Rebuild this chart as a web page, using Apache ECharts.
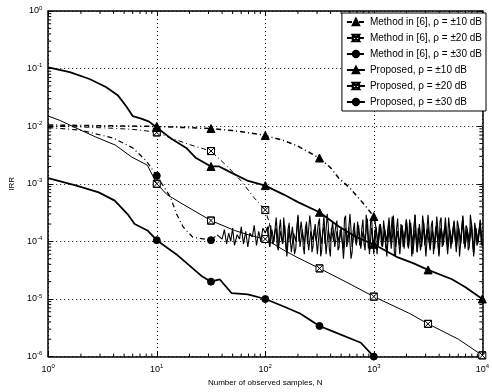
<!DOCTYPE html>
<html><head><meta charset="utf-8">
<script src="https://cdn.jsdelivr.net/npm/echarts@6/dist/echarts.min.js"></script>
<style>html,body{margin:0;padding:0;background:#fff}#c{width:492px;height:392px}</style>
</head><body><div id="c"></div><script>
// ---------------- data (N, IRR) ----------------
const names = ['Method in [6], \u03c1 = \u00b110 dB','Method in [6], \u03c1 = \u00b120 dB','Method in [6], \u03c1 = \u00b130 dB',
               'Proposed, \u03c1 = \u00b110 dB','Proposed, \u03c1 = \u00b120 dB','Proposed, \u03c1 = \u00b130 dB'];
const markN = [10, 31.6, 100, 316, 1000, 3162, 10000];

const m10Curve = [[1,0.0105],[2,0.0103],[5,0.0101],[10,0.0099],[20,0.0094],[31.6,0.0091],[50,0.0084],[70,0.0077],[100,0.0069],[150,0.0056],[200,0.0045],[316,0.0028],[400,0.0019],[474,0.00126],[600,0.00085],[716,0.00058],[850,0.0004],[1000,0.00027],[1030,0.00021]];
const m20Curve = [[1,0.0100],[2,0.0097],[4,0.0092],[6,0.0088],[8,0.0083],[10,0.0078],[13,0.0064],[20,0.0048],[31.6,0.0037],[46,0.0019],[60,0.00112],[79,0.00057],[100,0.00035],[110,0.0002]];
const m30Curve = [[1,0.0095],[2,0.0085],[4,0.0062],[6,0.0042],[8,0.0025],[10,0.00138],[13.4,0.00058],[15.2,0.0003],[17.5,0.000178],[21.5,0.000118],[31.6,0.000105],[36,0.00013]];
const p10Curve = [[1,0.105],[1.58,0.087],[2.4,0.066],[3.4,0.048],[4.4,0.034],[5.25,0.022],[6,0.015],[7.2,0.0135],[8.5,0.012],[10,0.0095],[13.4,0.0062],[18.7,0.0042],[23,0.0028],[31.6,0.002],[37.6,0.002],[49,0.00155],[69.6,0.00112],[100,0.00093],[148,0.00065],[200,0.00048],[316,0.00032],[480,0.00018],[700,0.000117],[1000,0.000089],[1620,0.000054],[2300,0.000042],[3162,0.000032],[5250,0.000022],[7000,0.000016],[10000,0.00001]];
const p20Curve = [[1,0.015],[1.28,0.0126],[2,0.0085],[2.74,0.0065],[4.15,0.0047],[5.9,0.0029],[8.2,0.0021],[10,0.001],[12.4,0.00065],[17.5,0.00044],[31.6,0.00023],[52,0.000155],[75,0.000125],[100,0.00011],[147,0.000071],[200,0.000052],[316,0.000034],[590,0.0000186],[1000,0.000011],[2140,0.0000056],[3162,0.0000037],[6030,0.000002],[10000,0.00000105]];
const p30Curve = [[1,0.00126],[1.82,0.00093],[2.92,0.00071],[4.1,0.00051],[5.4,0.000295],[6.25,0.0002],[8.2,0.000155],[10,0.000105],[15.1,0.00006],[26.3,0.0000245],[31.6,0.00002],[38,0.000022],[49,0.0000126],[69,0.000012],[100,0.00001],[148,0.0000074],[209,0.0000056],[316,0.0000034],[447,0.0000026],[760,0.00000174],[1000,0.000001]];

// noise floor samples
const noiseNA = [40,42,44,46,48,50,52,55,58,60,63,66,69,72,76,79,83,87,91,95,100,105,110,115,120,126,132,138,145,151,158,166,174,182,191,200,209,219,229,240,251,263,275,288,302,316,331,347,363,380,398,417,437,457,479,501,525,550,575,603,631,661,692,724,759,794,832,871,912,955,1000,1047,1096,1148,1202,1259,1318,1380,1445,1514,1585,1660,1738,1820,1905,1995,2089,2188,2291,2399,2512,2630,2754,2884,3020,3162,3311,3467,3631,3802,3981,4169,4365,4571,4786,5012,5248,5495,5754,6026,6310,6607,6918,7244,7586,7943,8318,8710,9120,9550,10000];
const noiseNB = [112,117,123,129,135,141,148,155,162,170,178,186,195,204,214,224,234,245,257,269,282,295,309,324,339,355,372,389,407,427,447,468,490,513,537,562,589,617,646,676,708,741,776,813,851,891,933,977,1023,1072,1122,1175,1230,1288,1349,1413,1479,1549,1622,1698,1778,1862,1950,2042,2138,2239,2344,2455,2570,2692,2818,2951,3090,3236,3388,3548,3715,3890,4074,4266,4467,4677,4898,5129,5370,5623,5888,6166,6457,6761,7079,7413,7762,8128,8511,8913,9333,9772];
const noiseNAhi = noiseNA.slice(21); // N = 105 .. 10000
const noiseNC = noiseNA.slice(71);   // N = 1047 .. 10000
const m30Noise = [1.1e-4,1.6e-4,0.9e-4,1.4e-4,1.0e-4,1.7e-4,0.85e-4,1.3e-4,1.1e-4,1.8e-4,
0.9e-4,1.5e-4,0.8e-4,1.4e-4,1.2e-4,1.9e-4,0.85e-4,1.5e-4,1.0e-4,1.7e-4,1.4e-4,
1.8e-4,0.8e-4,1.6e-4,1.0e-4,2.6e-4,0.75e-4,1.5e-4,0.95e-4,1.9e-4,0.55e-4,
1.7e-4,0.65e-4,1.4e-4,1.0e-4,2.9e-4,0.8e-4,1.6e-4,0.9e-4,1.8e-4,0.7e-4,
1.5e-4,1.05e-4,2.0e-4,0.6e-4,1.7e-4,0.9e-4,2.7e-4,0.6e-4,1.6e-4,1.0e-4,
2.2e-4,0.8e-4,1.5e-4,0.95e-4,1.8e-4,0.5e-4,1.7e-4,1.0e-4,3.0e-4,0.8e-4,
1.6e-4,0.9e-4,1.9e-4,0.75e-4,1.5e-4,1.05e-4,2.5e-4,0.6e-4,1.7e-4,0.85e-4,
1.8e-4,0.8e-4,2.0e-4,0.95e-4,1.6e-4,0.55e-4,1.7e-4,1.0e-4,2.8e-4,0.8e-4,
1.5e-4,0.9e-4,1.9e-4,0.75e-4,2.4e-4,1.0e-4,2.1e-4,0.6e-4,1.6e-4,0.85e-4,
2.0e-4,0.8e-4,1.7e-4,0.95e-4,2.9e-4,0.75e-4,1.6e-4,0.9e-4,1.9e-4,0.55e-4,
1.7e-4,1.0e-4,2.6e-4,0.8e-4,1.5e-4,0.9e-4,2.0e-4,0.65e-4,1.8e-4,1.0e-4,
2.7e-4,0.8e-4,1.6e-4,0.85e-4,1.9e-4,0.6e-4,1.7e-4,1.0e-4,2.4e-4,0.85e-4];
const m20Noise = [1.9e-4,0.9e-4,1.5e-4,0.8e-4,1.7e-4,1.1e-4,2.6e-4,0.75e-4,1.6e-4,0.95e-4,
1.8e-4,0.6e-4,1.5e-4,1.0e-4,2.2e-4,0.8e-4,1.7e-4,0.9e-4,2.8e-4,0.65e-4,
1.6e-4,1.0e-4,2.1e-4,0.55e-4,1.5e-4,0.9e-4,3.0e-4,0.75e-4,1.7e-4,1.0e-4,
1.9e-4,0.7e-4,1.6e-4,0.95e-4,2.5e-4,0.8e-4,1.8e-4,0.5e-4,1.5e-4,1.05e-4,
2.2e-4,0.85e-4,1.7e-4,0.9e-4,2.9e-4,0.75e-4,2.1e-4,1.0e-4,1.6e-4,0.6e-4,
1.8e-4,0.9e-4,2.3e-4,0.8e-4,1.6e-4,1.0e-4,2.7e-4,0.6e-4,1.7e-4,0.95e-4,
2.0e-4,0.8e-4,1.5e-4,0.9e-4,2.4e-4,0.55e-4,1.8e-4,1.0e-4,1.7e-4,0.7e-4,
2.8e-4,0.85e-4,1.6e-4,0.95e-4,1.9e-4,0.6e-4,1.8e-4,1.0e-4,2.2e-4,0.8e-4,
1.6e-4,0.9e-4,2.6e-4,0.75e-4,1.7e-4,1.05e-4,2.3e-4,0.55e-4,1.5e-4,0.9e-4,
1.9e-4,0.7e-4,2.9e-4,1.0e-4,2.1e-4,0.85e-4,1.6e-4,0.9e-4];
const m20NoiseHi = [1.5e-4,0.8e-4,2.0e-4,1.0e-4,1.7e-4,0.7e-4,2.4e-4,0.9e-4,1.6e-4,0.65e-4,
2.1e-4,0.95e-4,1.8e-4,0.75e-4,2.7e-4,1.0e-4,1.5e-4,0.6e-4,2.2e-4,0.85e-4,
1.9e-4,0.8e-4,1.6e-4,1.05e-4,2.5e-4,0.7e-4,1.8e-4,0.9e-4,2.0e-4,0.55e-4,
1.7e-4,1.0e-4,2.3e-4,0.8e-4,1.6e-4,0.75e-4,2.8e-4,0.95e-4,1.9e-4,0.65e-4,
2.1e-4,0.85e-4,1.5e-4,1.0e-4,2.4e-4,0.7e-4,1.8e-4,0.9e-4,2.6e-4,0.6e-4,
1.7e-4,1.05e-4,2.0e-4,0.8e-4,1.6e-4,0.7e-4,2.2e-4,0.95e-4,1.9e-4,0.55e-4,
2.5e-4,0.85e-4,1.7e-4,1.0e-4,2.1e-4,0.75e-4,1.6e-4,0.9e-4,2.9e-4,0.65e-4,
1.8e-4,1.0e-4,2.0e-4,0.8e-4,1.5e-4,0.7e-4,2.3e-4,0.95e-4,1.7e-4,0.6e-4,
2.6e-4,0.85e-4,1.9e-4,1.05e-4,1.6e-4,0.75e-4,2.2e-4,0.9e-4,1.8e-4,0.55e-4,
2.4e-4,1.0e-4,1.7e-4,0.8e-4,2.0e-4,0.7e-4,1.6e-4,0.95e-4,2.1e-4,0.85e-4];
const m10Noise = [1.7e-4,0.9e-4,2.0e-4,0.8e-4,1.6e-4,1.0e-4,2.6e-4,0.75e-4,1.8e-4,0.95e-4,
1.5e-4,0.6e-4,1.9e-4,1.0e-4,2.4e-4,0.8e-4,1.7e-4,0.9e-4,2.9e-4,0.65e-4,
1.6e-4,1.05e-4,2.1e-4,0.55e-4,1.8e-4,0.9e-4,1.5e-4,0.75e-4,2.7e-4,1.0e-4,
1.7e-4,0.85e-4,1.9e-4,0.6e-4,1.6e-4,1.0e-4,2.3e-4,0.8e-4,1.8e-4,0.9e-4,
2.8e-4,0.75e-4,1.6e-4,1.05e-4,2.1e-4,0.55e-4,1.7e-4,0.95e-4,1.9e-4,0.85e-4];

const xMinor = [], yMinor = [];
for (let e = 0; e < 4; e++) for (let k = 2; k <= 9; k++) xMinor.push(k * Math.pow(10, e));
for (let e = -6; e < 0; e++) for (let k = 2; k <= 9; k++) yMinor.push(k * Math.pow(10, e));

// ---------------- styling ----------------
const FONT = 'Liberation Sans, Arial, sans-serif';
const DASHDOT = [5, 3, 1, 3];
const boxSym = 'path://M0,0L10,0L10,10L0,10Z M0,0L10,10L0,10L10,0Z';

function withMarks(curve, sym) {
  return curve.map(p => ({ value: p, symbol: markN.indexOf(p[0]) >= 0 ? sym : 'none' }));
}
function zip(ns, vs) { return ns.map((n, i) => [n, vs[i]]); }

function mainSeries(name, curve, sym, size, lw, dash, fill) {
  return {
    name, type: 'line', data: withMarks(curve, sym), symbol: sym, symbolSize: size,
    showSymbol: true, showAllSymbol: true, z: 5,
    lineStyle: { color: '#000', width: lw, type: dash },
    itemStyle: { color: fill, borderColor: '#000', borderWidth: 1 },
    emphasis: { disabled: true }, animation: false
  };
}
function noiseSeries(startPt, pts) {
  return {
    type: 'line', data: [startPt].concat(pts.sort((a, b) => a[0] - b[0])), symbol: 'none', z: 4,
    lineStyle: { color: '#000', width: 1.1 }, emphasis: { disabled: true }, animation: false
  };
}

const supFmt = v => '{b|10}{s|' + Math.round(Math.log10(v)) + '}';
const rich = { b: { fontSize: 9, fontFamily: FONT, color: '#000' }, s: { fontSize: 6, fontFamily: FONT, color: '#000', padding: [0, 0, 6, 0] } };

const option = {
  backgroundColor: '#fff',
  animation: false,
  grid: { left: 41, right: 4, top: 11, bottom: 31 },
  xAxis: [{
    type: 'log', min: 1, max: 10000, logBase: 10,
    axisLine: { lineStyle: { color: '#000', width: 1.5 } },
    axisTick: { inside: true, length: 5, lineStyle: { color: '#000' } },
    axisLabel: { formatter: supFmt, rich, margin: 7 },
    splitLine: { show: true, lineStyle: { color: '#000', type: [1, 3], width: 1 } },
    name: 'Number of observed samples, N', nameLocation: 'middle', nameGap: 22,
    nameTextStyle: { fontSize: 8, fontFamily: FONT, color: '#000' }
  }, {
    type: 'log', min: 1, max: 10000, position: 'top',
    axisLine: { show: true, lineStyle: { color: '#000', width: 1.5 } },
    axisTick: { inside: true, length: 5, lineStyle: { color: '#000' } },
    axisLabel: { show: false }, splitLine: { show: false }
  }],
  yAxis: [{
    type: 'log', min: 1e-6, max: 1, logBase: 10,
    axisLine: { show: true, lineStyle: { color: '#000', width: 1.5 } },
    axisTick: { show: true, inside: true, length: 5, lineStyle: { color: '#000' } },
    axisLabel: { formatter: supFmt, rich, margin: 6 },
    splitLine: { show: true, lineStyle: { color: '#000', type: [1, 3], width: 1 } },
    name: 'IRR', nameLocation: 'middle', nameGap: 31,
    nameTextStyle: { fontSize: 8, fontFamily: FONT, color: '#000' }
  }, {
    type: 'log', min: 1e-6, max: 1, position: 'right',
    axisLine: { show: true, lineStyle: { color: '#000', width: 1.5 } },
    axisTick: { show: true, inside: true, length: 5, lineStyle: { color: '#000' } },
    axisLabel: { show: false }, splitLine: { show: false }
  }],
  legend: {
    data: names, orient: 'vertical', right: 6, top: 13, z: 20,
    backgroundColor: '#fff', borderColor: '#000', borderWidth: 1, borderRadius: 0,
    padding: [4, 4, 4, 4], itemGap: 6, itemWidth: 18, itemHeight: 8,
    textStyle: { fontSize: 10, color: '#000', fontFamily: FONT }
  },
  series: [
    mainSeries(names[0], m10Curve, 'triangle', 8, 1.5, DASHDOT, '#000'),
    mainSeries(names[1], m20Curve, boxSym, 7, 1, DASHDOT, '#fff'),
    mainSeries(names[2], m30Curve, 'circle', 7, 1.2, DASHDOT, '#000'),
    mainSeries(names[3], p10Curve, 'triangle', 8, 1.8, 'solid', '#000'),
    mainSeries(names[4], p20Curve, boxSym, 7, 1, 'solid', '#fff'),
    mainSeries(names[5], p30Curve, 'circle', 7, 1.8, 'solid', '#000'),
    noiseSeries(m30Curve[m30Curve.length - 1], zip(noiseNA, m30Noise)),
    noiseSeries(m20Curve[m20Curve.length - 1], zip(noiseNB, m20Noise).concat(zip(noiseNAhi, m20NoiseHi))),
    noiseSeries(m10Curve[m10Curve.length - 1], zip(noiseNC, m10Noise)),
    {
      type: 'custom', silent: true, z: 3, clip: false,
      data: xMinor.map(v => [v, 1e-6]),
      renderItem: (params, api) => {
        const b = api.coord([api.value(0), 1e-6]), t = api.coord([api.value(0), 1]);
        return { type: 'group', children: [
          { type: 'line', shape: { x1: b[0], y1: b[1], x2: b[0], y2: b[1] - 3 }, style: { stroke: '#000', lineWidth: 1 } },
          { type: 'line', shape: { x1: t[0], y1: t[1], x2: t[0], y2: t[1] + 3 }, style: { stroke: '#000', lineWidth: 1 } }
        ] };
      }
    },
    {
      type: 'custom', silent: true, z: 3, clip: false,
      data: yMinor.map(v => [1, v]),
      renderItem: (params, api) => {
        const l = api.coord([1, api.value(1)]), r = api.coord([10000, api.value(1)]);
        return { type: 'group', children: [
          { type: 'line', shape: { x1: l[0], y1: l[1], x2: l[0] + 3, y2: l[1] }, style: { stroke: '#000', lineWidth: 1 } },
          { type: 'line', shape: { x1: r[0], y1: r[1], x2: r[0] - 3, y2: r[1] }, style: { stroke: '#000', lineWidth: 1 } }
        ] };
      }
    }
  ]
};
const chart = echarts.init(document.getElementById('c'), null, { renderer: 'canvas' });
chart.setOption(option);
</script></body></html>
